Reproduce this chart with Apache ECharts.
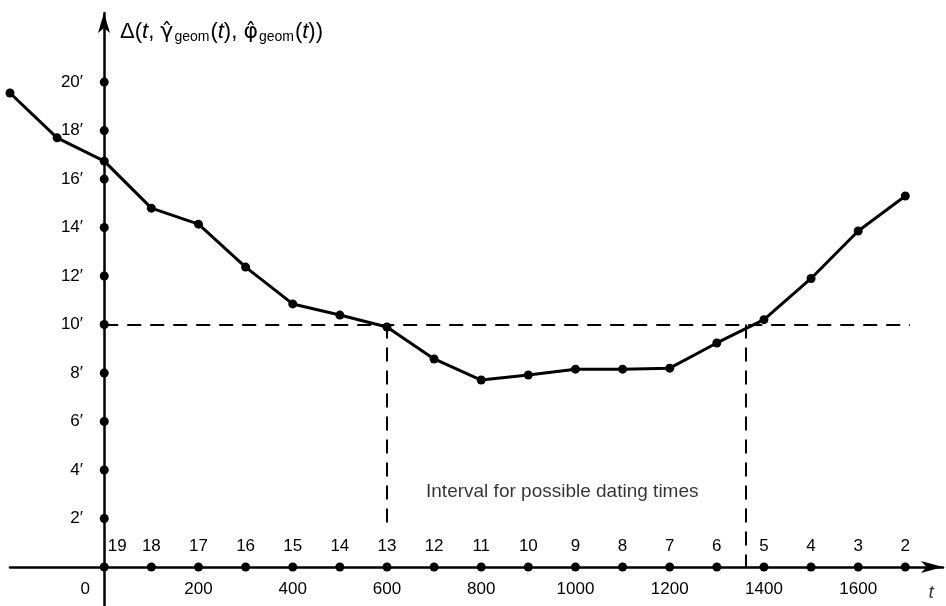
<!DOCTYPE html>
<html>
<head>
<meta charset="utf-8">
<script src="https://cdn.jsdelivr.net/npm/echarts@6/dist/echarts.min.js"></script>
<style>
html,body{margin:0;padding:0;background:#fff;}
#chart{width:946px;height:606px;}
</style>
</head>
<body>
<div id="chart"></div>
<script>
// ---- data ----
const tValues = [-200, -100, 0, 100, 200, 300, 400, 500, 600, 700, 800, 900, 1000, 1100, 1200, 1300, 1400, 1500, 1600, 1700];
const deltaValues = [19.55, 17.7, 16.74, 14.8, 14.14, 12.37, 10.85, 10.39, 9.9, 8.58, 7.71, 7.92, 8.16, 8.16, 8.2, 9.24, 10.2, 11.9, 13.86, 15.3];
const axisPointTimes = [0, 100, 200, 300, 400, 500, 600, 700, 800, 900, 1000, 1100, 1200, 1300, 1400, 1500, 1600, 1700];
const pointNumbers = [19, 18, 17, 16, 15, 14, 13, 12, 11, 10, 9, 8, 7, 6, 5, 4, 3, 2];
const xTickValues = [0, 200, 400, 600, 800, 1000, 1200, 1400, 1600];
const yTickValues = [2, 4, 6, 8, 10, 12, 14, 16, 18, 20];
const threshold = 10;
const thresholdLineEnd = 1710;
const intervalStart = 600;
const intervalStartBottom = 1.5;
const intervalEnd = 1362;
const annotationText = 'Interval for possible dating times';
const annotationPos = [972, 3.1];
const xAxisTitle = 't';
const xAxisTitlePos = [1755, -1.07];

const FONT = '"Liberation Sans", Arial, sans-serif';
const chart = echarts.init(document.getElementById('chart'), null, {renderer: 'canvas'});

const option = {
  animation: false,
  backgroundColor: '#fff',
  grid: {left: 10, right: 3, top: 13, bottom: 0, containLabel: false, outerBoundsMode: 'none'},
  xAxis: {
    type: 'value',
    min: -200,
    max: 1780,
    position: 'bottom',
    offset: -39,
    axisLine: {onZero: false, lineStyle: {color: '#000', width: 2.5}, symbol: ['none', 'arrow'], symbolSize: [9, 22]},
    axisTick: {show: false},
    splitLine: {show: false},
    axisLabel: {
      customValues: xTickValues,
      color: '#000', fontSize: 17, fontFamily: FONT, margin: 14,
      formatter: v => v === 0 ? '{o|0}' : String(v),
      rich: {o: {padding: [0, 38, 0, 0], fontSize: 17, color: '#000', fontFamily: FONT}}
    }
  },
  yAxis: {
    type: 'value',
    min: -1.61,
    max: 22.85,
    position: 'left',
    offset: -94,
    axisLine: {onZero: false, lineStyle: {color: '#000', width: 2.5}, symbol: ['none', 'arrow'], symbolSize: [9, 20]},
    axisTick: {show: false},
    splitLine: {show: false},
    axisLabel: {
      customValues: yTickValues,
      color: '#000', fontSize: 17, fontFamily: FONT, margin: 21,
      formatter: v => v + '′'
    },
    name: '{n|Δ(}{i|t}{n|, }{g|γ̂}{s|geom}{n|(}{i|t}{n|), }{g|φ̂}{s|geom}{n|(}{i|t}{n|))}',
    nameLocation: 'end',
    nameGap: -19,
    nameTextStyle: {
      align: 'left', verticalAlign: 'middle', padding: [0, 0, 0, 16],
      rich: {
        n: {fontSize: 22, color: '#000', fontFamily: FONT},
        i: {fontSize: 22, color: '#000', fontFamily: FONT, fontStyle: 'italic'},
        g: {fontSize: 22, color: '#000', fontFamily: '"DejaVu Sans", sans-serif'},
        s: {fontSize: 14, color: '#000', fontFamily: FONT, padding: [10, 1, 0, 1]}
      }
    }
  },
  series: [
    {
      name: 'delta',
      type: 'line',
      data: tValues.map((t, i) => [t, deltaValues[i]]),
      symbol: 'circle',
      symbolSize: 9,
      itemStyle: {color: '#000', opacity: 1},
      lineStyle: {color: '#000', width: 3},
      z: 5,
      markLine: {
        silent: true,
        symbol: ['none', 'none'],
        label: {show: false},
        lineStyle: {color: '#000', width: 2, type: [14, 9]},
        data: [
          [{coord: [0, threshold]}, {coord: [thresholdLineEnd, threshold]}],
          [{coord: [intervalStart, threshold]}, {coord: [intervalStart, intervalStartBottom]}],
          [{coord: [intervalEnd, threshold]}, {coord: [intervalEnd, 0]}]
        ]
      }
    },
    {
      name: 'axisDots',
      type: 'scatter',
      symbol: 'circle',
      symbolSize: 9,
      itemStyle: {color: '#000', opacity: 1},
      z: 6,
      data: axisPointTimes.map((t, i) => ({
        value: [t, 0],
        label: {
          show: true,
          position: 'top',
          distance: 8,
          offset: i === 0 ? [13, 0] : [0, 0],
          formatter: String(pointNumbers[i]),
          color: '#000', fontSize: 17, fontFamily: FONT
        }
      }))
    },
    {
      name: 'yDots',
      type: 'scatter',
      symbol: 'circle',
      symbolSize: 9,
      itemStyle: {color: '#000', opacity: 1},
      z: 6,
      data: yTickValues.map(v => [0, v])
    },
    {
      name: 'annotation',
      type: 'scatter',
      symbolSize: 0,
      silent: true,
      data: [annotationPos],
      label: {
        show: true, position: 'inside', formatter: annotationText,
        color: '#000', fontSize: 19, fontFamily: FONT
      }
    },
    {
      name: 'xTitle',
      type: 'scatter',
      symbolSize: 0,
      silent: true,
      data: [xAxisTitlePos],
      label: {
        show: true, position: 'inside', formatter: xAxisTitle,
        color: '#000', fontSize: 19, fontStyle: 'italic', fontFamily: FONT
      }
    }
  ]
};
chart.setOption(option);
</script>
</body>
</html>
